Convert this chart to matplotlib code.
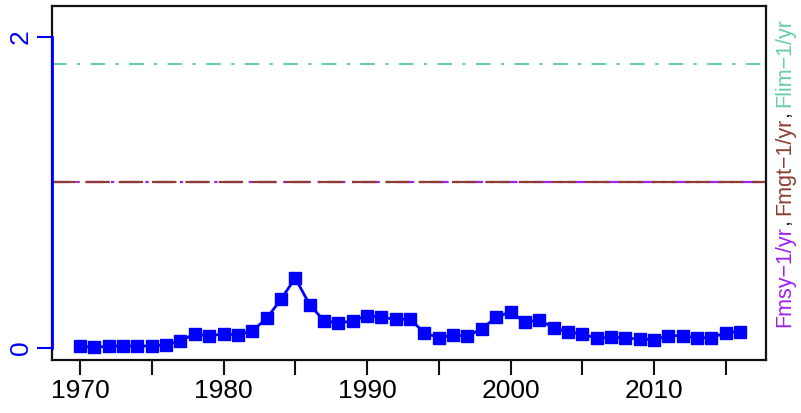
import numpy as np
import matplotlib.pyplot as plt
from matplotlib.font_manager import FontProperties

plt.rcParams['font.family'] = ['Liberation Sans', 'DejaVu Sans']

# data
years = list(range(1970, 2017))
f_values = [0.013, 0.004, 0.013, 0.013, 0.013, 0.013, 0.021, 0.047, 0.090, 0.079,
            0.090, 0.086, 0.110, 0.190, 0.313, 0.450, 0.279, 0.176, 0.159, 0.176,
            0.208, 0.197, 0.185, 0.185, 0.098, 0.066, 0.084, 0.077, 0.124, 0.197,
            0.234, 0.165, 0.180, 0.131, 0.103, 0.090, 0.062, 0.071, 0.064, 0.058,
            0.054, 0.079, 0.079, 0.066, 0.066, 0.098, 0.105]
fmsy = 1.067
fmgt = 1.067
flim = 1.826

ref_labels = ['Fmsy\u22121/yr', 'Fmgt\u22121/yr', 'Flim\u22121/yr']
ref_colors = ['#A020F0', '#8B3E2F', '#66CDAA']

fig = plt.figure(figsize=(8.01, 4.13), dpi=100)
ax = fig.add_axes([52 / 801, 1 - 360 / 413, (766 - 52) / 801, (360 - 6) / 413])

ax.plot(years, f_values, color='blue', lw=2, marker='s', markersize=9, zorder=5)

# reference lines
ax.axhline(flim, color=ref_colors[2], lw=1.5, dashes=(7, 5, 1.5, 5))
ax.axhline(fmsy, color=ref_colors[0], lw=1.6, dashes=(8, 3, 1.5, 3))
ax.axhline(fmgt, color=ref_colors[1], lw=1.6, dashes=(11, 4))

ax.set_xlim(1968.05, 2017.8)
ax.set_ylim(-0.077, 2.2)

ax.set_xticks(range(1970, 2016, 5))
ax.set_xticklabels([str(y) if y % 10 == 0 else '' for y in range(1970, 2016, 5)])
ax.set_yticks([0, 2])
ax.tick_params(axis='x', length=11, width=1.5, labelsize=19, pad=3, color='#111111')
ax.tick_params(axis='y', length=11, width=1.5, labelsize=19, colors='blue',
               labelrotation=90, pad=3)
for lab in ax.get_yticklabels():
    lab.set_va('center')

for sp in ax.spines.values():
    sp.set_linewidth(1.6)
    sp.set_color('#111111')
ax.spines['left'].set_visible(False)
ax.plot([0, 0], [0, 1], transform=ax.transAxes, color='#111111', lw=1.6,
        clip_on=False, zorder=6)
ax.plot([1968.05, 1968.05], [0, 2], color='blue', lw=2, clip_on=False, zorder=7)

# multicoloured right-hand label, drawn piece by piece upwards on a shared baseline
fig.canvas.draw()
renderer = fig.canvas.get_renderer()
prop = FontProperties(family=['Liberation Sans', 'DejaVu Sans'], size=15.5)
pieces = []
for i, (lab, col) in enumerate(zip(ref_labels, ref_colors)):
    pieces.append((lab, col))
    if i < len(ref_labels) - 1:
        pieces.append((', ', '#222222'))
x_px = 790
y0 = 413 - 327
prefix = ''
for txt, col in pieces:
    w = renderer.get_text_width_height_descent(prefix, prop, ismath=False)[0] if prefix else 0
    fig.text(x_px / 801, (y0 + w) / 413, txt, color=col, fontproperties=prop,
             rotation=90, rotation_mode='anchor', ha='left', va='baseline')
    prefix += txt

fig.savefig('out.png', dpi=100)
